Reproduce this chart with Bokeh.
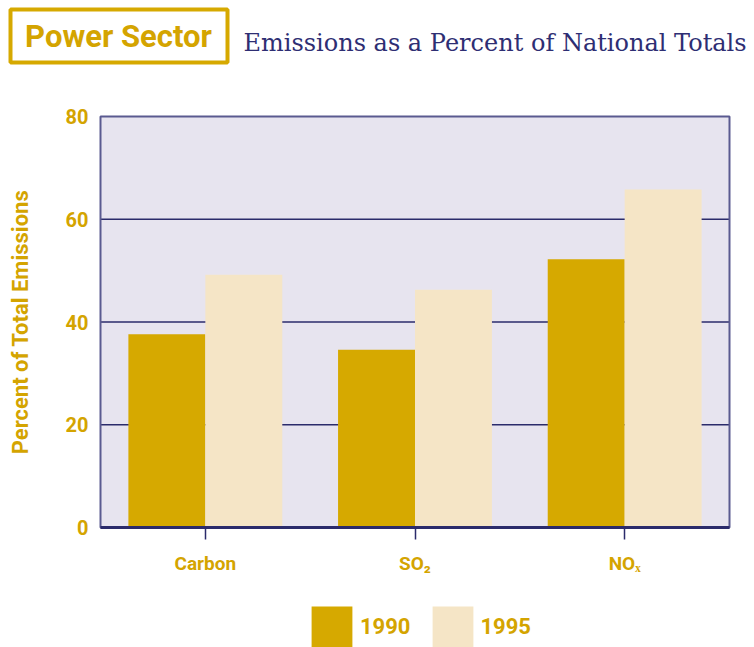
from bokeh.plotting import figure
from bokeh.models import (Range1d, FixedTicker, Legend, LegendItem, Label,
                          BoxAnnotation, LinearAxis)
from bokeh.embed import file_html
from bokeh.resources import INLINE

# ---- data ----
categories = ["Carbon", "SO\u2082", "NO\u2093"]
values_1990 = [37.6, 34.6, 52.2]
values_1995 = [49.2, 46.3, 65.8]
years = ["1990", "1995"]
y_ticks = [0, 20, 40, 60, 80]
header_title = "Power Sector"
header_subtitle = "Emissions as a Percent of National Totals"

# ---- style / layout ----
GOLD = "#d6a900"
GOLD_TXT = "#d4a400"
CREAM = "#f5e5c6"
BG = "#e7e4ef"
NAVY = "#2b2b6b"
EDGE = "#5a5a90"
FONT = "Roboto"
W, H = 754, 647
# pixel box of the plotting area inside the canvas
PL, PR, PT, PB = 100, 729, 116, 527
X0, X1 = 0, len(categories)
Y0, Y1 = y_ticks[0], y_ticks[-1]
sx = (PR - PL) / (X1 - X0)
sy = (PB - PT) / (Y1 - Y0)
x_range = Range1d(X0 - PL / sx, X1 + (W - PR) / sx)
y_range = Range1d(Y0 - (H - PB) / sy, Y1 + PT / sy)

p = figure(width=W, height=H, output_backend="svg", toolbar_location=None,
           x_range=x_range, y_range=y_range, min_border=0,
           x_axis_location=None, y_axis_location=None)
p.background_fill_color = "white"
p.border_fill_color = "white"
p.outline_line_color = None
p.grid.visible = False

# plot-area background
p.quad(left=[X0], right=[X1], bottom=[Y0], top=[Y1], fill_color=BG, line_color=None)
# horizontal grid lines
gl = y_ticks[1:-1]
p.segment(x0=[X0] * len(gl), x1=[X1] * len(gl), y0=gl, y1=gl,
          line_color=NAVY, line_width=1.5)

centers = [i + 0.5 for i in range(len(categories))]
w = 0.367
r1 = p.vbar(x=[c - w / 2 for c in centers], top=values_1990, width=w, bottom=0,
            fill_color=GOLD, line_color=None)
r2 = p.vbar(x=[c + w / 2 for c in centers], top=values_1995, width=w, bottom=0,
            fill_color=CREAM, line_color=None)

# plot-area outline
p.quad(left=[X0], right=[X1], bottom=[Y0], top=[Y1], fill_color=None,
       line_color=EDGE, line_width=2)

# y axis
ya = LinearAxis(fixed_location=X0, bounds=(Y0, Y1), ticker=FixedTicker(ticks=y_ticks))
ya.axis_line_color = None
ya.major_tick_line_color = None
ya.major_tick_in = 0
ya.major_tick_out = 0
ya.minor_tick_line_color = None
ya.major_label_text_color = GOLD_TXT
ya.major_label_text_font = FONT
ya.major_label_text_font_style = "bold"
ya.major_label_text_font_size = "20px"
ya.major_label_standoff = 12
ya.axis_label = "Percent of Total Emissions"
ya.axis_label_text_color = GOLD_TXT
ya.axis_label_text_font = FONT
ya.axis_label_text_font_style = "bold"
ya.axis_label_text_font_size = "22px"
ya.axis_label_standoff = 30
p.add_layout(ya, "left")

# x axis (ticks at the category centres)
xa = LinearAxis(fixed_location=Y0, bounds=(X0, X1), ticker=FixedTicker(ticks=centers))
xa.major_label_overrides = {c: name for c, name in zip(centers, categories)}
xa.axis_line_color = NAVY
xa.axis_line_width = 3
xa.major_tick_line_color = NAVY
xa.major_tick_line_width = 1.5
xa.major_tick_in = 0
xa.major_tick_out = 12
xa.minor_tick_line_color = None
xa.major_label_text_color = GOLD_TXT
xa.major_label_text_font = FONT
xa.major_label_text_font_style = "bold"
xa.major_label_text_font_size = "19px"
xa.major_label_standoff = 12
p.add_layout(xa, "below")

# legend
legend = Legend(items=[LegendItem(label=years[0], renderers=[r1]),
                       LegendItem(label=years[1], renderers=[r2])],
                orientation="horizontal", location=(306, -5),
                glyph_width=51, glyph_height=51, label_standoff=3, spacing=16,
                padding=0, margin=0, border_line_color=None, background_fill_alpha=0,
                label_text_color=GOLD_TXT, label_text_font=FONT,
                label_text_font_style="bold", label_text_font_size="22px")
p.add_layout(legend, "center")

# header
p.add_layout(BoxAnnotation(left=10, right=227, top=H - 9, bottom=H - 62,
                           left_units="screen", right_units="screen",
                           top_units="screen", bottom_units="screen",
                           fill_color="white", fill_alpha=1,
                           line_color=GOLD, line_width=4, line_alpha=1))
p.add_layout(Label(x=118, y=H - 36, x_units="screen", y_units="screen",
                   text=header_title, text_color=GOLD_TXT, text_font=FONT,
                   text_font_style="bold", text_font_size="31px",
                   text_align="center", text_baseline="middle"))
p.add_layout(Label(x=243, y=H - 42, x_units="screen", y_units="screen",
                   text=header_subtitle, text_color="#2e2e73",
                   text_font="DejaVu Serif", text_font_size="24px",
                   text_align="left", text_baseline="alphabetic"))

open("out.html", "w").write(file_html(p, INLINE))
